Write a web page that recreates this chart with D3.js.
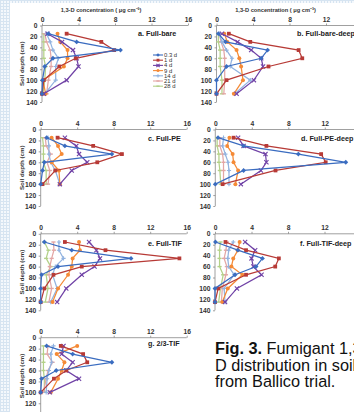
<!DOCTYPE html>
<html><head><meta charset="utf-8">
<script src="https://cdn.jsdelivr.net/npm/d3@7"></script>
<style>
html,body{margin:0;padding:0;background:#fff;overflow:hidden}
svg{display:block;font-family:"Liberation Sans",Arial,sans-serif}
</style></head>
<body>
<svg id="c" width="354" height="412"></svg>
<script>
// ---------------- DATA ----------------
const seriesNames = ["0.3 d","1 d","4 d","9 d","14 d","21 d","28 d"];
const depths = [15,30,45,60,75,100,125];
const xTickValues = [0,4,8,12,16];
const xTickValuesRight = [0,4,8,12];
const yTickValues = [0,20,40,60,80,100,120,140];
const yTickValuesLast = [0,20,40,60,80,100,120];
const panelLabels = ["a. Full-bare","b. Full-bare-deep","c. Full-PE","d. Full-PE-deep","e. Full-TIF","f. Full-TIF-deep","g. 2/3-TIF"];
const xTitle = "1,3-D concentration ( μg cm⁻³)";
const yTitle = "Soil depth (cm)";
const captionBold = "Fig. 3.";
const captionLines = [" Fumigant 1,3-","D distribution in soil","from Ballico trial."];

// each panel: one row per series (0.3 d ... 28 d), values at depths
const fullBare = [
  [0.7,3.8,8.6,1.2,0.3,0.05,0],
  [2.7,6.5,7.9,3.7,1.9,0.2,0],
  [0.6,2.2,3.4,3.8,4.0,2.7,0.2],
  [1.7,2.0,2.8,2.8,2.4,0.1,0.4],
  [0.5,0.9,1.2,1.8,1.5,1.5,0.3],
  [0.3,0.5,0.9,1.0,1.0,0.7,0.5],
  [0.2,0.2,0.2,0.2,0.4,0.3,0.1]
];
const fullBareDeep = [
  [0.2,1.0,5.6,4.9,1.1,0,0],
  [1.35,3.7,9.0,9.4,5.7,1.1,0],
  [0.6,2.3,3.8,4.9,5.1,4.1,2.2],
  [0.85,1.2,2.2,2.5,2.7,2.9,1.9],
  [0.3,0.6,1.1,1.7,1.5,3.7,2.0],
  [0.3,0.5,0.8,0.9,0.9,0.9,0.8],
  [0.2,0.2,0.4,0.4,0.4,0.6,0.6]
];
const fullPE = [
  [0.65,2.65,7.8,0.4,0.2,0],
  [1.85,5.75,8.9,6.2,1.6,0.2],
  [2.65,3.9,4.2,5.1,3.4,2.1],
  [1.2,1.9,2.3,1.2,2.0,2.1],
  [0.8,0.9,0.9,1.1,1.6,2.1],
  [0.5,0.6,1.1,0.7,1.0,0.8],
  [0.2,0.3,0.3,0.3,0.6,0.6]
];
const fullPEDeep = [
  [0.3,3.1,9.1,14.3,3.1,0],
  [2.0,5.6,11.6,12.1,6.6,0.8],
  [2.5,3.1,5.5,5.6,5.0,2.8],
  [1.55,1.3,1.9,2.0,2.5,2.2],
  [0.9,0.8,1.1,1.4,1.5,1.5],
  [0.5,0.5,0.8,0.9,0.9,0.9],
  [0.2,0.2,0.4,0.4,0.5,0.6]
];
const fullTIF = [
  [0.4,3.4,9.9,1.9,0.1,0,0],
  [2.65,7.1,15.2,4.5,1.4,0.4,0],
  [5.3,6.1,6.5,5.9,4.5,2.8,1.8],
  [4.2,4.3,3.5,3.4,3.0,1.9,1.3],
  [2.0,2.0,2.5,1.6,1.3,1.8,1.1],
  [1.4,1.45,1.2,1.0,0.9,1.2,0.9],
  [0.4,0.85,0.6,1.1,0.6,0.8,0.5]
];
const fullTIFDeep = [
  [0.05,2.5,5.2,4.5,2.2,0,0],
  [1.15,3.4,7.0,6.6,3.4,0.35,0],
  [3.3,4.4,4.0,4.2,5.1,2.4,1.1],
  [2.7,2.5,2.0,1.8,3.0,1.4,0.8],
  [2.0,1.5,1.4,1.5,2.1,1.0,1.1],
  [1.3,1.2,1.0,1.3,1.2,0.8,0.7],
  [0.6,0.5,0.5,0.5,0.9,0.6,0.4]
];
const twoThirdsTIF = [
  [0.65,3.5,7.8,1.7,0.1,0],
  [2.2,4.65,5.1,2.8,1.45,0],
  [2.5,2.3,3.5,2.8,4.2,1.0],
  [4.0,1.75,2.6,2.3,1.9,1.1],
  [1.4,1.1,1.2,0.9,0.7,0.6],
  [0.8,0.7,1.3,0.8,0.6,0.3],
  [0.3,0.3,0.3,0.3,0.4,0.4]
];

// ---------------- STYLE / LAYOUT ----------------
const colors = ["#3a6cc0","#b73a36","#7042a6","#f58a36","#92b3e0","#e3a6a5","#b3d188"];
const markers = ["diamond","square","x","circle","plus","dash","dash"];
const panels = [
  {data: fullBare,     x0: 42,   y0: 25.5,  title: true,  legend: true,  lab:[138,35.5], right:false},
  {data: fullBareDeep, x0: 216.5,y0: 25.5,  title: true,  lab:[297,35.5], right:true},
  {data: fullPE,       x0: 40.7, y0: 129.5, lab:[148,141], right:false},
  {data: fullPEDeep,   x0: 215.3,y0: 129.5, lab:[301,141], right:true},
  {data: fullTIF,      x0: 40.7, y0: 233.8, lab:[148,246], right:false},
  {data: fullTIFDeep,  x0: 215,  y0: 233.8, lab:[300,246], right:true},
  {data: twoThirdsTIF, x0: 40.7, y0: 337.7, lab:[148,346], right:false, last:true}
];
const PW = 146, PH = 76.5;

const svg = d3.select("#c");
// background pattern
const defs = svg.append("defs");
const pat = defs.append("pattern").attr("id","grid").attr("width",3).attr("height",3).attr("patternUnits","userSpaceOnUse");
pat.append("rect").attr("width",3).attr("height",3).attr("fill","#f4f8fc");
pat.append("path").attr("d","M0,0.5H3M0.5,0V3").attr("stroke","#d6e4f1").attr("stroke-width",1);
svg.append("rect").attr("width",354).attr("height",412).attr("fill","url(#grid)");
svg.append("rect").attr("x",10).attr("y",3).attr("width",344).attr("height",409).attr("fill","#fff");

function drawMarker(g, type, color, size) {
  const s = size;
  if (type === "diamond") g.append("path").attr("d",`M0,${-s*1.15}L${s*1.15},0L0,${s*1.15}L${-s*1.15},0Z`).attr("fill",color);
  else if (type === "square") g.append("rect").attr("x",-s*0.9).attr("y",-s*0.9).attr("width",s*1.8).attr("height",s*1.8).attr("fill",color);
  else if (type === "circle") g.append("circle").attr("r",s*0.95).attr("fill",color);
  else if (type === "x") g.append("path").attr("d",`M${-s},${-s}L${s},${s}M${-s},${s}L${s},${-s}`).attr("stroke",color).attr("stroke-width",1.1);
  else if (type === "plus") g.append("path").attr("d",`M${-s},0H${s}M0,${-s}V${s}`).attr("stroke",color).attr("stroke-width",1.1);
  else if (type === "dash") g.append("path").attr("d",`M${-s},0H${s}`).attr("stroke",color).attr("stroke-width",1.4);
}

panels.forEach((p, pi) => {
  const x = d3.scaleLinear().domain([0,16]).range([p.x0, p.x0 + PW]);
  const y = d3.scaleLinear().domain([0,140]).range([p.y0, p.y0 + PH]);
  const g = svg.append("g");

  const xa = g.append("g").attr("transform",`translate(0,${p.y0})`)
    .call(d3.axisTop(x).tickValues(p.right ? xTickValuesRight : xTickValues).tickSize(2).tickSizeOuter(0));
  xa.select(".domain").attr("d", `M${p.x0},0H${Math.min(p.x0 + PW, 354)}`);
  const ya = g.append("g").attr("transform",`translate(${p.x0},0)`)
    .call(d3.axisLeft(y).tickValues(p.last ? yTickValuesLast : yTickValues).tickSize(2).tickSizeOuter(0));
  ya.select(".domain").attr("d", `M0,${p.y0}V${Math.min(p.y0 + PH, 412)}`);
  [xa, ya].forEach(a => {
    a.select(".domain").attr("stroke","#888").attr("stroke-width",0.8);
    a.selectAll(".tick line").attr("stroke","#888").attr("stroke-width",0.8);
    a.selectAll("text").attr("font-size",6.7).attr("font-weight","bold").attr("fill","#333")
      .attr("font-family","'Liberation Sans',Arial,sans-serif");
  });
  xa.selectAll("text").attr("dy","0").attr("y",-4);
  ya.selectAll("text").attr("x",-4.5);

  if (p.title) {
    g.append("text").attr("x", p.x0 + 59).attr("y", p.y0 - 14)
      .attr("text-anchor","middle").attr("font-size",5.7).attr("font-weight","bold").attr("fill","#333")
      .text(xTitle);
  }
  if (!p.right) {
    const cy = p.y0 + PH/2;
    g.append("text").attr("transform",`translate(24,${cy}) rotate(-90)`)
      .attr("text-anchor","middle").attr("font-size",6.2).attr("font-weight","bold").attr("fill","#333")
      .text(yTitle);
  }
  g.append("text").attr("x",p.lab[0]).attr("y",p.lab[1]).attr("font-size",7.2).attr("font-weight","bold").attr("fill","#222")
    .text(panelLabels[pi]);

  // series (draw last series first so early series on top)
  for (let si = p.data.length - 1; si >= 0; si--) {
    const vals = p.data[si];
    const pts = vals.map((v,i) => [x(v), y(depths[i])]);
    g.append("path").attr("d", d3.line()(pts)).attr("fill","none")
      .attr("stroke", colors[si]).attr("stroke-width",1.25);
    pts.forEach(pt => {
      const mg = g.append("g").attr("transform",`translate(${pt[0]},${pt[1]})`);
      drawMarker(mg, markers[si], colors[si], 2.1);
    });
  }

  if (p.legend) {
    seriesNames.forEach((n, si) => {
      const ly = 55 + si * 5.2;
      g.append("line").attr("x1",153).attr("x2",163).attr("y1",ly).attr("y2",ly).attr("stroke",colors[si]).attr("stroke-width",1.1);
      const mg = g.append("g").attr("transform",`translate(158,${ly})`);
      drawMarker(mg, markers[si], colors[si], 1.6);
      g.append("text").attr("x",164).attr("y",ly+2).attr("font-size",5.9).attr("fill","#333").text(n);
    });
  }
});

// caption
const capSize = 16.3;
const cap = svg.append("text").attr("x",215).attr("y",354).attr("font-size",capSize).attr("fill","#111");
cap.append("tspan").attr("font-weight","bold").text(captionBold);
cap.append("tspan").text(captionLines[0]);
svg.append("text").attr("x",215).attr("y",370.7).attr("font-size",capSize).attr("fill","#111").text(captionLines[1]);
svg.append("text").attr("x",215).attr("y",387.4).attr("font-size",capSize).attr("fill","#111").text(captionLines[2]);
</script>
</body></html>
